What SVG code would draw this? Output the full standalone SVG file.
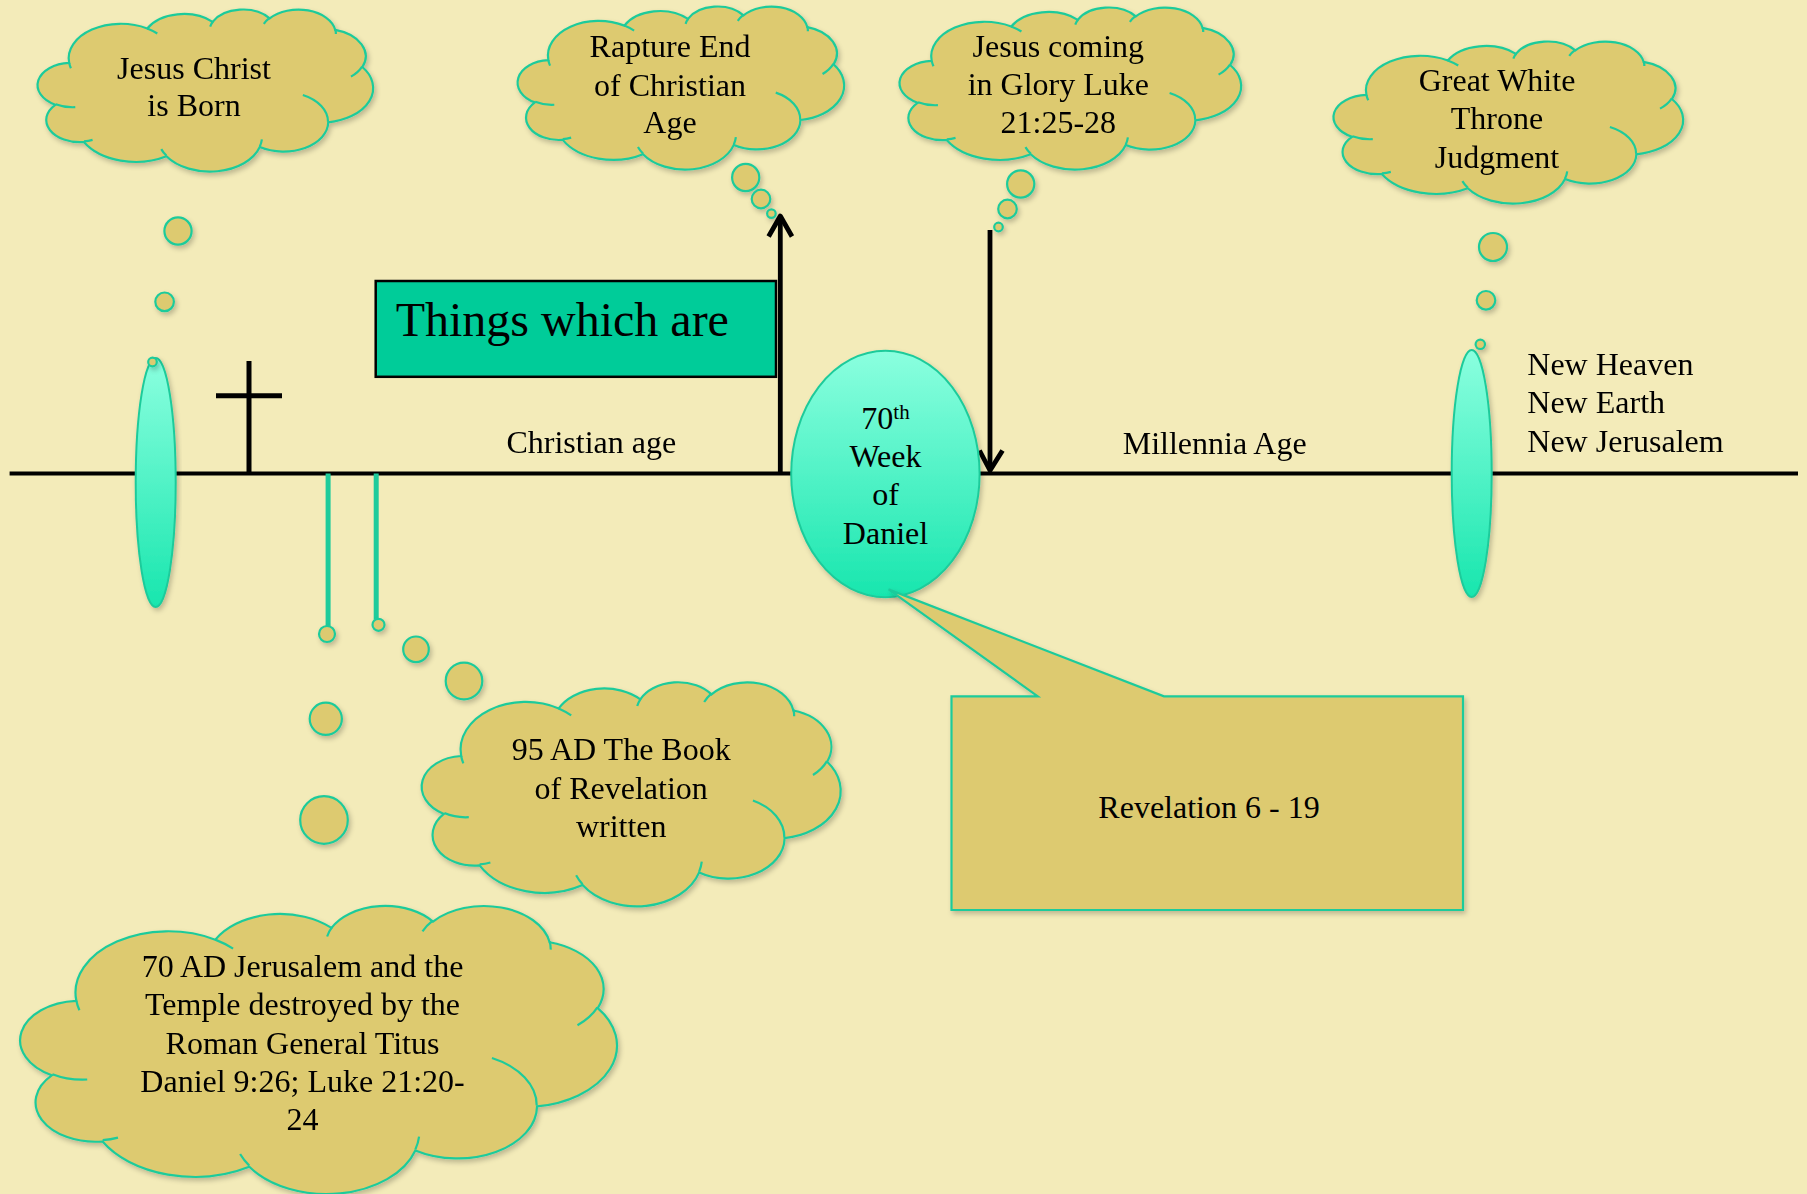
<svg xmlns="http://www.w3.org/2000/svg" xmlns:xlink="http://www.w3.org/1999/xlink" width="1807" height="1194" viewBox="0 0 1807 1194">
<style>
.cloud{fill:#DDCA70;stroke:#1ECB9B;stroke-width:2.2}
.inner{fill:none;stroke:#1ECB9B;stroke-width:2.2}
.bub{fill:#DDCA70;stroke:#1ECB9B;stroke-width:2.2}
.t{font-family:"Liberation Serif","Times New Roman",serif;font-size:32px;fill:#000}
.tm{text-anchor:middle}
.blk{stroke:#000;fill:none}
.teal{stroke:#1ECB9B;stroke-width:5;fill:none}
.ell{stroke:#1ECB9B;stroke-width:2}
</style>
<defs>
<linearGradient id="gEll" x1="0" y1="0" x2="0" y2="1">
<stop offset="0" stop-color="#8BFFDF"/>
<stop offset="1" stop-color="#18E6AE"/>
</linearGradient>
<filter id="sh" x="-10%" y="-10%" width="125%" height="125%">
<feDropShadow dx="2" dy="3" stdDeviation="2.5" flood-color="#000" flood-opacity="0.22"/>
</filter>
<path id="cloud" vector-effect="non-scaling-stroke" d="M9.03,33.26 A15.63,21.27 0 0 1 32.42,12.04 A12.34,16.82 0 0 1 51.99,7.95 A10.10,13.76 0 0 1 69.07,5.76 A11.24,15.27 0 0 1 88.71,12.93 A12.34,16.84 0 0 1 96.81,35.81 A15.68,21.34 0 0 1 86.59,69.93 A13.39,18.21 0 0 1 66.10,85.23 A15.63,21.33 0 0 1 38.15,90.90 A17.87,24.41 0 0 1 13.44,82.11 A10.09,13.70 0 0 1 4.89,59.14 A10.06,13.76 0 0 1 9.03,33.26 Z"/>
<path id="cloudIn" vector-effect="non-scaling-stroke" d="M10.86,60.59 A10.06,13.76 0 0 1 5.00,58.75 M16.04,80.78 A10.09,13.70 0 0 1 13.47,81.67 M38.14,90.49 A15.63,21.33 0 0 1 36.60,86.46 M66.73,80.44 A15.63,21.33 0 0 1 66.11,84.86 M79.00,53.13 A13.39,18.21 0 0 1 86.53,69.65 M96.75,35.54 A12.34,16.84 0 0 1 93.40,41.73 M88.71,12.56 A11.24,15.27 0 0 1 88.89,15.49 M67.31,9.15 A11.24,15.27 0 0 1 69.03,5.41 M51.25,10.93 A10.10,13.76 0 0 1 52.08,7.71 M32.41,12.02 A15.63,21.27 0 0 1 35.42,15.15 M9.55,36.55 A15.63,21.27 0 0 1 9.03,33.27"/>
</defs>
<rect x="0" y="0" width="1807" height="1194" fill="#F3EBB9"/>

<g id="connectors">
<line class="blk" x1="9.6" y1="473.5" x2="1798" y2="473.5" stroke-width="3.8"/>
<line class="teal" x1="328.1" y1="473.5" x2="328.1" y2="627"/>
<line class="teal" x1="376.2" y1="473.5" x2="376.2" y2="619.5"/>
<line class="blk" x1="780.3" y1="473.5" x2="780.3" y2="218" stroke-width="4.8"/>
<polyline class="blk" points="768.6,236.5 780.3,216 792,236.5" stroke-width="4.8" stroke-linejoin="round"/>
<line class="blk" x1="990" y1="230" x2="990" y2="468" stroke-width="4.8"/>
<polyline class="blk" points="979.5,450.5 990,470.5 1002.5,450.5" stroke-width="4.8" stroke-linejoin="round"/>
</g>

<g id="cross">
<line class="blk" x1="249" y1="361" x2="249" y2="473.5" stroke-width="5"/>
<line class="blk" x1="216" y1="395.7" x2="282" y2="395.7" stroke-width="5"/>
</g>

<g id="ellipse-left" filter="url(#sh)">
<ellipse class="ell" cx="155.7" cy="482.5" rx="20" ry="124.5" fill="url(#gEll)"/>
</g>
<g id="ellipse-right" filter="url(#sh)">
<ellipse class="ell" cx="1471.7" cy="473.5" rx="20" ry="123.5" fill="url(#gEll)"/>
</g>

<g id="things-which-are">
<rect x="375.7" y="281" width="400.3" height="95.8" fill="#00CC99" stroke="#000" stroke-width="2.5"/>
<text class="t" x="395.7" y="336.4" style="font-size:48px">Things which are</text>
</g>

<g id="week70" filter="url(#sh)">
<ellipse class="ell" cx="885.4" cy="474" rx="94.2" ry="123.3" fill="url(#gEll)"/>
</g>
<g id="week70-text">
<text class="t tm" x="885.5" y="428.7">70<tspan style="font-size:21px" dy="-10">th</tspan></text>
<text class="t tm" x="885.5" y="466.8">Week</text>
<text class="t tm" x="885.5" y="504.5">of</text>
<text class="t tm" x="885.5" y="543.5">Daniel</text>
</g>

<g id="revelation">
<g filter="url(#sh)">
<path d="M951.5,696.4 L1037.8,696.4 L888.6,589.4 L1164,696.4 L1463,696.4 L1463,910 L951.5,910 Z" fill="#DDCA70" stroke="#1ECB9B" stroke-width="2.2"/>
</g>
<text class="t tm" x="1209" y="817.7">Revelation 6 - 19</text>
</g>

<g id="cloud-born">
<g filter="url(#sh)">
<use href="#cloud" class="cloud" transform="translate(39,9) scale(3.34,1.62)"/>
<circle class="bub" cx="178" cy="231" r="13.6"/>
<circle class="bub" cx="164.6" cy="301.8" r="9.3"/>
<circle class="bub" cx="152.5" cy="362" r="4.3"/>
</g>
<use href="#cloudIn" class="inner" transform="translate(39,9) scale(3.34,1.62)"/>
<text class="t tm" x="194" y="78.6">Jesus Christ</text>
<text class="t tm" x="194" y="116">is Born</text>
</g>

<g id="cloud-rapture">
<g filter="url(#sh)">
<use href="#cloud" class="cloud" transform="translate(519,6) scale(3.25,1.63)"/>
<circle class="bub" cx="745.7" cy="177.5" r="13.6"/>
<circle class="bub" cx="761" cy="199" r="9.3"/>
<circle class="bub" cx="771.4" cy="213.6" r="4.3"/>
</g>
<use href="#cloudIn" class="inner" transform="translate(519,6) scale(3.25,1.63)"/>
<text class="t tm" x="670" y="57">Rapture End</text>
<text class="t tm" x="670" y="95.7">of Christian</text>
<text class="t tm" x="670" y="132.8">Age</text>
</g>

<g id="cloud-glory">
<g filter="url(#sh)">
<use href="#cloud" class="cloud" transform="translate(901,7) scale(3.40,1.62)"/>
<circle class="bub" cx="1020.7" cy="184" r="13.6"/>
<circle class="bub" cx="1007.5" cy="209" r="9.3"/>
<circle class="bub" cx="998.5" cy="227" r="4.3"/>
</g>
<use href="#cloudIn" class="inner" transform="translate(901,7) scale(3.40,1.62)"/>
<text class="t tm" x="1058.3" y="56.7">Jesus coming</text>
<text class="t tm" x="1058.3" y="95">in Glory Luke</text>
<text class="t tm" x="1058.3" y="133.3">21:25-28</text>
</g>

<g id="cloud-throne">
<g filter="url(#sh)">
<use href="#cloud" class="cloud" transform="translate(1335,41) scale(3.48,1.62)"/>
<circle class="bub" cx="1493" cy="247" r="14"/>
<circle class="bub" cx="1486" cy="300.3" r="9.3"/>
<circle class="bub" cx="1480.3" cy="344.3" r="4.7"/>
</g>
<use href="#cloudIn" class="inner" transform="translate(1335,41) scale(3.48,1.62)"/>
<text class="t tm" x="1497" y="90.7">Great White</text>
<text class="t tm" x="1497" y="129.3">Throne</text>
<text class="t tm" x="1497" y="168.3">Judgment</text>
</g>

<g id="cloud-95ad">
<g filter="url(#sh)">
<use href="#cloud" class="cloud" transform="translate(423.5,681.5) scale(4.17,2.24)"/>
<circle class="bub" cx="464" cy="681" r="18.3"/>
<circle class="bub" cx="416" cy="649.3" r="12.8"/>
<circle class="bub" cx="378.5" cy="624.8" r="6"/>
</g>
<use href="#cloudIn" class="inner" transform="translate(423.5,681.5) scale(4.17,2.24)"/>
<text class="t tm" x="621.2" y="760.3">95 AD The Book</text>
<text class="t tm" x="621.2" y="799.1">of Revelation</text>
<text class="t tm" x="621.2" y="837.3">written</text>
</g>

<g id="cloud-70ad">
<g filter="url(#sh)">
<use href="#cloud" class="cloud" transform="translate(22.7,905) scale(5.94,2.88)"/>
<circle class="bub" cx="324" cy="820" r="23.8"/>
<circle class="bub" cx="325.8" cy="718.8" r="16.1"/>
<circle class="bub" cx="327" cy="634" r="8"/>
</g>
<use href="#cloudIn" class="inner" transform="translate(22.7,905) scale(5.94,2.88)"/>
<text class="t tm" x="302.5" y="977">70 AD Jerusalem and the</text>
<text class="t tm" x="302.5" y="1015.4">Temple destroyed by the</text>
<text class="t tm" x="302.5" y="1053.8">Roman General Titus</text>
<text class="t tm" x="302.5" y="1092.3">Daniel 9:26; Luke 21:20-</text>
<text class="t tm" x="302.5" y="1130">24</text>
</g>

<g id="labels">
<text class="t" x="506.4" y="453">Christian age</text>
<text class="t" x="1122.7" y="454">Millennia Age</text>
<text class="t" x="1527.3" y="375">New Heaven</text>
<text class="t" x="1527.3" y="413.3">New Earth</text>
<text class="t" x="1527.3" y="451.7">New Jerusalem</text>
</g>
</svg>
